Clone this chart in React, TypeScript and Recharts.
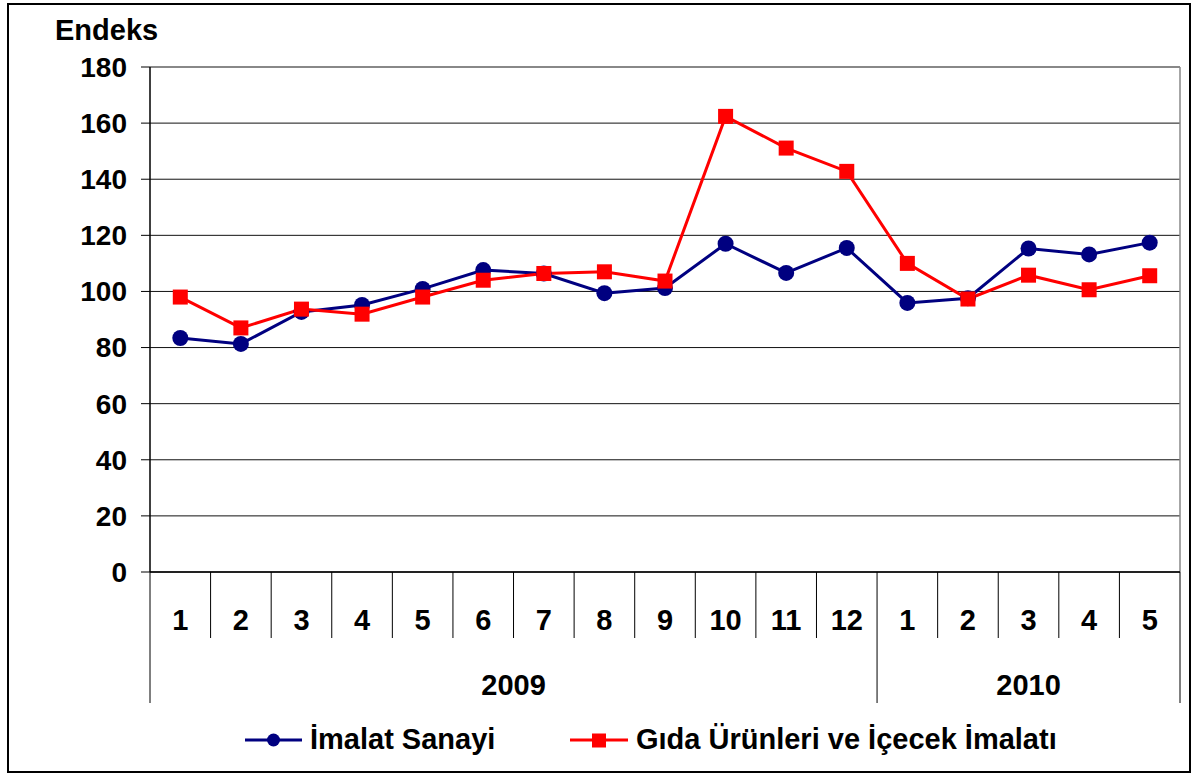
import React from "react";
import { CartesianGrid, Line, LineChart, XAxis, YAxis } from "recharts";

const months = ["1", "2", "3", "4", "5", "6", "7", "8", "9", "10", "11", "12", "1", "2", "3", "4", "5"];
const yearLabels = ["2009", "2010"];
const yearSpans = [12, 5];
const imalat = [83.4, 81.3, 92.7, 95.2, 100.9, 107.6, 106.4, 99.4, 101.2, 117.0, 106.6, 115.5, 95.9, 97.6, 115.3, 113.2, 117.4];
const gida = [98.0, 87.0, 93.7, 91.9, 98.0, 104.0, 106.4, 107.0, 103.7, 162.4, 151.1, 142.8, 110.0, 97.3, 105.8, 100.6, 105.6];
const yTicks = [0, 20, 40, 60, 80, 100, 120, 140, 160, 180];

const seriesNames = ["İmalat Sanayi", "Gıda Ürünleri ve İçecek İmalatı"];
const NAVY = "#000080";
const RED = "#FF0000";
const FONT = "'Liberation Sans', Arial, sans-serif";

const data = months.map((m, i) => ({ key: i, month: m, imalat: imalat[i], gida: gida[i] }));

const CHART_W = 1180;
const CHART_H = 765;
const margin = { top: 62, right: 9, left: 0, bottom: 58 };
const Y_W = 141;
const X_H = 140;
const PLOT_W = CHART_W - margin.left - margin.right - Y_W;
const BW = PLOT_W / months.length;

const yearStarts = yearSpans.map((_, g) => yearSpans.slice(0, g).reduce((a, b) => a + b, 0));

function MonthTick(props: any) {
  const { x, y, payload } = props;
  const i: number = props.index ?? payload.index;
  const parts: React.ReactNode[] = [];
  const isStart = yearStarts.includes(i);
  parts.push(
    <line key="l" x1={x - BW / 2} x2={x - BW / 2} y1={y} y2={y + (isStart ? 131 : 66)} stroke="#000" strokeWidth={1} />
  );
  if (i === months.length - 1) {
    parts.push(<line key="r" x1={x + BW / 2} x2={x + BW / 2} y1={y} y2={y + 131} stroke="#000" strokeWidth={1} />);
  }
  parts.push(
    <text key="m" x={x} y={y + 48} textAnchor="middle" dominantBaseline="central" fontFamily={FONT} fontWeight="bold" fontSize={29} fill="#000">
      {months[i]}
    </text>
  );
  yearStarts.forEach((s, g) => {
    const c = s + (yearSpans[g] - 1) / 2;
    if (Math.floor(c) === i) {
      parts.push(
        <text key={"y" + g} x={x + (c - i) * BW} y={y + 113} textAnchor="middle" dominantBaseline="central" fontFamily={FONT} fontWeight="bold" fontSize={29} fill="#000">
          {yearLabels[g]}
        </text>
      );
    }
  });
  return <g>{parts}</g>;
}

function SquareDot(props: any) {
  const { cx, cy, index } = props;
  if (cx == null || cy == null) return null;
  return <rect key={index} x={cx - 7.5} y={cy - 7.5} width={15} height={15} fill={RED} />;
}

function CircleDot(props: any) {
  const { cx, cy, index } = props;
  if (cx == null || cy == null) return null;
  return <circle key={index} cx={cx} cy={cy} r={8} fill={NAVY} />;
}

const textStyle: React.CSSProperties = {
  position: "absolute",
  fontFamily: FONT,
  fontWeight: "bold",
  fontSize: 29,
  lineHeight: "29px",
  color: "#000",
  whiteSpace: "nowrap",
};

export default function App() {
  return (
    <div
      style={{
        position: "absolute",
        left: 7,
        top: 3,
        width: 1184,
        height: 770,
        border: "2px solid #000",
        boxSizing: "border-box",
        background: "#fff",
      }}
    >
      <div style={{ ...textStyle, left: 46, top: 11 }}>Endeks</div>
      <LineChart width={CHART_W} height={CHART_H} data={data} margin={margin}>
        <CartesianGrid vertical={false} stroke="#111" strokeWidth={1} />
        <CartesianGrid horizontalPoints={[margin.top]} verticalPoints={[CHART_W - margin.right]} stroke="#888" strokeWidth={1.5} />
        <XAxis
          dataKey="key"
          type="category"
          interval={0}
          height={X_H}
          padding={{ left: BW / 2, right: BW / 2 }}
          axisLine={{ stroke: "#000", strokeWidth: 1.5 }}
          tickLine={false}
          tickSize={0}
          tickMargin={0}
          tick={<MonthTick />}
        />
        <YAxis
          width={Y_W}
          domain={[0, 180]}
          ticks={yTicks}
          interval={0}
          axisLine={{ stroke: "#000", strokeWidth: 1.5 }}
          tickLine={{ stroke: "#000" }}
          tickSize={9}
          tickMargin={14}
          tick={{ fontFamily: FONT, fontWeight: "bold", fontSize: 28, fill: "#000" }}
        />
        <Line
          dataKey="imalat"
          name={seriesNames[0]}
          stroke={NAVY}
          strokeWidth={3}
          dot={<CircleDot />}
          activeDot={false}
          isAnimationActive={false}
        />
        <Line
          dataKey="gida"
          name={seriesNames[1]}
          stroke={RED}
          strokeWidth={3}
          dot={<SquareDot />}
          activeDot={false}
          isAnimationActive={false}
        />
      </LineChart>
      <svg style={{ position: "absolute", left: 236, top: 727 }} width={58} height={16}>
        <line x1={0} x2={57} y1={8} y2={8} stroke={NAVY} strokeWidth={3} />
        <circle cx={28.5} cy={8} r={6.5} fill={NAVY} />
      </svg>
      <div style={{ ...textStyle, left: 301, top: 720 }}>{seriesNames[0]}</div>
      <svg style={{ position: "absolute", left: 561, top: 727 }} width={59} height={16}>
        <line x1={0} x2={58} y1={8} y2={8} stroke={RED} strokeWidth={3} />
        <rect x={22} y={1.5} width={14} height={14} fill={RED} />
      </svg>
      <div style={{ ...textStyle, left: 627, top: 720 }}>{seriesNames[1]}</div>
    </div>
  );
}
